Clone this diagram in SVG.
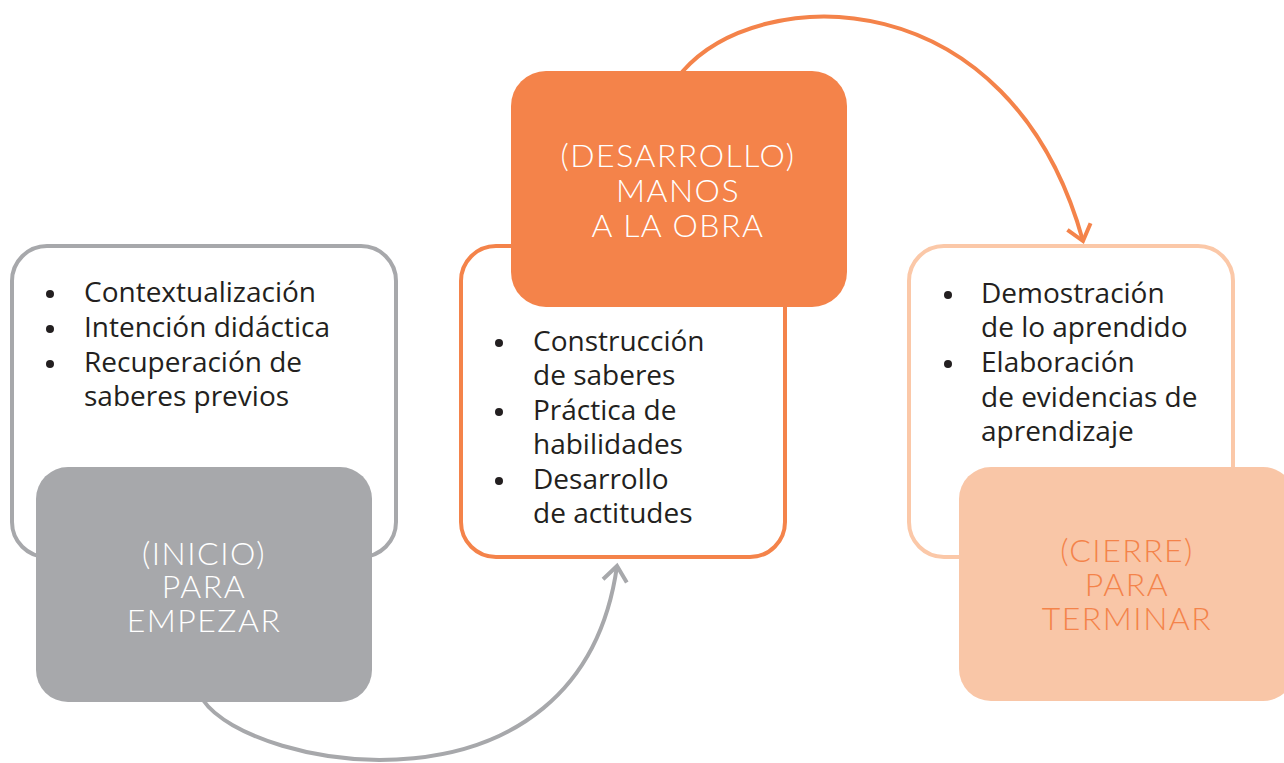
<svg xmlns="http://www.w3.org/2000/svg" width="1284" height="763" viewBox="0 0 1284 763">
<style>
.list{font-family:"Open Sans","Liberation Sans",sans-serif;font-size:28px;fill:#231f20}
.bullet{fill:#231f20}
.head{font-family:Lato,"Liberation Sans",sans-serif;font-weight:300;font-size:32px;letter-spacing:1.5px;text-anchor:middle}
.conn{fill:none;stroke-width:4}
</style>
<defs>
<marker id="ahGray" markerUnits="userSpaceOnUse" orient="auto" refX="0" refY="0" markerWidth="40" markerHeight="40" viewBox="-20 -20 40 40" overflow="visible">
<path d="M-15,-12 L0,0 L-15,12" fill="none" stroke="#a7a8ab" stroke-width="4"/>
</marker>
<marker id="ahOrange" markerUnits="userSpaceOnUse" orient="auto" refX="0" refY="0" markerWidth="40" markerHeight="40" viewBox="-20 -20 40 40" overflow="visible">
<path d="M-15,-12 L0,0 L-15,12" fill="none" stroke="#f4834a" stroke-width="4"/>
</marker>
</defs>
<rect width="1284" height="763" fill="#ffffff"/>
<g id="connectors">
<path class="conn" stroke="#a7a8ab" d="M203,700 C250,770 580,830 617,566" marker-end="url(#ahGray)"/>
<path class="conn" stroke="#f4834a" d="M682,72 C760,-18 1010,-22 1083,241" marker-end="url(#ahOrange)"/>
</g>
<g id="inicio">
<rect x="12" y="246" width="384" height="311" rx="35" fill="#ffffff" stroke="#a7a8ab" stroke-width="4"/>
<circle class="bullet" cx="50" cy="294" r="4"/>
<circle class="bullet" cx="50" cy="329" r="4"/>
<circle class="bullet" cx="50" cy="364" r="4"/>
<text class="list"><tspan x="84" y="302">Contextualización</tspan><tspan x="84" y="337">Intención didáctica</tspan><tspan x="84" y="372">Recuperación de</tspan><tspan x="84" y="406">saberes previos</tspan></text>
<rect x="36" y="467" width="336" height="235" rx="32" fill="#a7a8ab"/>
<text class="head" fill="#ffffff"><tspan x="204" y="565">(INICIO)</tspan><tspan x="204" y="598">PARA</tspan><tspan x="204" y="632">EMPEZAR</tspan></text>
</g>
<g id="desarrollo">
<rect x="461" y="246" width="324" height="311" rx="35" fill="#ffffff" stroke="#f4834a" stroke-width="4"/>
<circle class="bullet" cx="499" cy="343" r="4"/>
<circle class="bullet" cx="499" cy="412" r="4"/>
<circle class="bullet" cx="499" cy="481" r="4"/>
<text class="list"><tspan x="533" y="351">Construcción</tspan><tspan x="533" y="385">de saberes</tspan><tspan x="533" y="420">Práctica de</tspan><tspan x="533" y="454">habilidades</tspan><tspan x="533" y="489">Desarrollo</tspan><tspan x="533" y="523">de actitudes</tspan></text>
<rect x="511" y="71" width="336" height="236" rx="35" fill="#f4834a"/>
<text class="head" fill="#ffffff"><tspan x="678" y="167">(DESARROLLO)</tspan><tspan x="678" y="202">MANOS</tspan><tspan x="678" y="237">A LA OBRA</tspan></text>
</g>
<g id="cierre">
<rect x="909" y="246" width="324" height="311" rx="35" fill="#ffffff" stroke="#fbc8a8" stroke-width="4"/>
<circle class="bullet" cx="948" cy="295" r="4"/>
<circle class="bullet" cx="948" cy="364" r="4"/>
<text class="list"><tspan x="981" y="303">Demostración</tspan><tspan x="981" y="337">de lo aprendido</tspan><tspan x="981" y="372">Elaboración</tspan><tspan x="981" y="407">de evidencias de</tspan><tspan x="981" y="441">aprendizaje</tspan></text>
<rect x="959" y="467" width="336" height="234" rx="32" fill="#f9c6a7"/>
<text class="head" fill="#f4834a"><tspan x="1127" y="562">(CIERRE)</tspan><tspan x="1127" y="596">PARA</tspan><tspan x="1127" y="630">TERMINAR</tspan></text>
</g>
</svg>
